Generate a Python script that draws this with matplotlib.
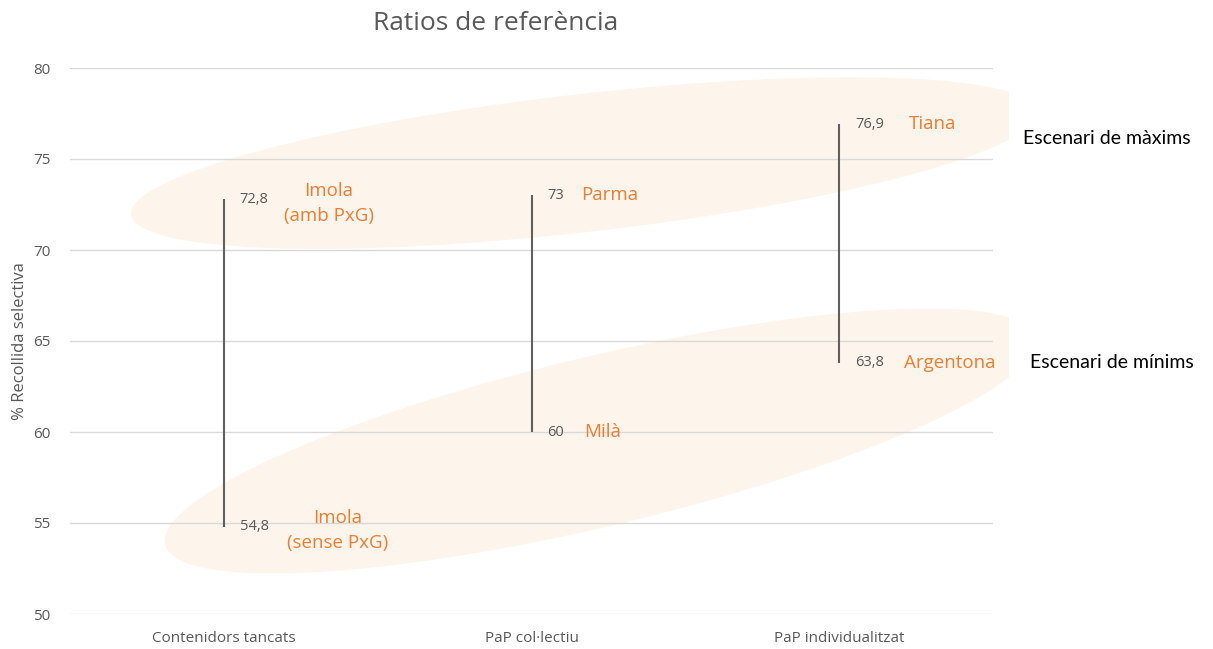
import matplotlib.pyplot as plt
from matplotlib.patches import Ellipse, Rectangle

# data
categories = ['Contenidors tancats', 'PaP col·lectiu', 'PaP individualitzat']
min_values = [54.8, 60, 63.8]
max_values = [72.8, 73, 76.9]
min_names = ['Imola\n(sense PxG)', 'Milà', 'Argentona']
max_names = ['Imola\n(amb PxG)', 'Parma', 'Tiana']
yticks = [50, 55, 60, 65, 70, 75, 80]

# label offsets (pixels) for the site names
min_name_dx = [114, 53, 65]
max_name_dx = [105, 50, 70]

orange = '#ED7D31'
gray = '#595959'

fig = plt.figure(figsize=(12.13, 6.49), dpi=100)

# background shapes in pixel coordinates
bg = fig.add_axes([0, 0, 1, 1])
bg.set_xlim(0, 1213)
bg.set_ylim(649, 0)
bg.axis('off')
clip = Rectangle((0, 0), 1009, 649, transform=bg.transData)
for (cx, cy, w, h, ang) in [(584, 163, 912, 138, -6.5), (600, 441, 894, 170, -13.4)]:
    e = Ellipse((cx, cy), w, h, angle=ang, facecolor='#FDF5EC', edgecolor='none')
    bg.add_patch(e)
    e.set_clip_path(clip)

ax = fig.add_axes([70 / 1213, 1 - 614 / 649, 923 / 1213, 546 / 649])
ax.patch.set_alpha(0)
x = list(range(len(categories)))

ax.vlines(x, min_values, max_values, color='#606060', lw=1.5, zorder=3)

for i in x:
    for v, name, dx in [(min_values[i], min_names[i], min_name_dx[i]),
                        (max_values[i], max_names[i], max_name_dx[i])]:
        ax.annotate(f'{v:g}'.replace('.', ','), (i, v), xytext=(16, 0),
                    textcoords='offset pixels', ha='left', va='center',
                    fontsize=10.5, color=gray, family='Open Sans')
        multi = '\n' in name
        ax.annotate(name, (i, v), xytext=(dx, -4 if multi else 0),
                    textcoords='offset pixels', ha='center' if multi else 'left',
                    va='center', fontsize=13.5, color=orange, family='Open Sans',
                    linespacing=1.5)

ax.set_xlim(-0.5, 2.5)
ax.set_ylim(50, 80)
ax.set_yticks(yticks)
ax.set_xticks(x)
ax.set_xticklabels(categories)
ax.grid(axis='y', color='#D9D9D9', lw=1)
ax.set_axisbelow(True)
for s in ax.spines.values():
    s.set_visible(False)
ax.tick_params(axis='both', length=0, colors=gray, labelsize=11)
ax.tick_params(axis='y', pad=14)
ax.tick_params(axis='x', pad=12)
for lbl in ax.get_xticklabels() + ax.get_yticklabels():
    lbl.set_family('Open Sans')
ax.set_ylabel('% Recollida selectiva', fontsize=12, color=gray, family='Open Sans', labelpad=4)

fig.text(496 / 1213, 1 - 24 / 649, 'Ratios de referència', ha='center', va='center',
         fontsize=19, color=gray, family='Open Sans')
fig.text(1023 / 1213, 1 - 138 / 649, 'Escenari de màxims', ha='left', va='center',
         fontsize=14, color='black', family='Lato')
fig.text(1030 / 1213, 1 - 362 / 649, 'Escenari de mínims', ha='left', va='center',
         fontsize=14, color='black', family='Lato')

fig.savefig('out.png', dpi=100)
